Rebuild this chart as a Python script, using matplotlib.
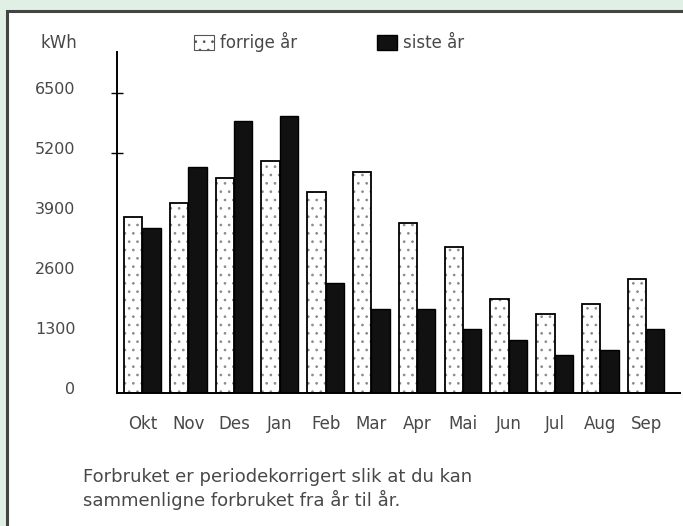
import numpy as np
import matplotlib
matplotlib.use("Agg")
import matplotlib.pyplot as plt
import matplotlib.transforms as mtransforms
from matplotlib.patches import Rectangle, Patch

months = ["Okt", "Nov", "Des", "Jan", "Feb", "Mar", "Apr", "Mai", "Jun", "Jul", "Aug", "Sep"]
forrige = [3820, 4110, 4670, 5030, 4350, 4800, 3690, 3160, 2030, 1720, 1930, 2470]
siste = [3570, 4900, 5900, 6010, 2380, 1810, 1810, 1380, 1150, 820, 930, 1380]
yticks = [0, 1300, 2600, 3900, 5200, 6500]

plt.rcParams['font.family'] = ['DejaVu Sans']
plt.rcParams['hatch.linewidth'] = 0.7
plt.rcParams['hatch.color'] = '#8a8a8a'
txt = '#484848'

W, H = 683, 526
fig = plt.figure(figsize=(W / 100, H / 100), dpi=100, facecolor='#e0f0e4')

# white panel with dark border (behind the axes)
fig.patches.append(Rectangle((6.5 / W, -0.05), 1.1, 1 - 11 / H + 0.05, transform=fig.transFigure,
                             facecolor='white', edgecolor='#444444', lw=2.2, zorder=-5))

ax = fig.add_axes([117 / W, 1 - 393 / H, (680 - 117) / W, (393 - 52) / H])
ax.set_facecolor('none')

x = np.arange(len(months))
w = 0.4
ax.bar(x - w / 2, forrige, w, facecolor='white', edgecolor='#8a8a8a', hatch='..', lw=0)
ax.bar(x - w / 2, forrige, w, facecolor='none', edgecolor='black', lw=1.3)
ax.bar(x + w / 2, siste, w, facecolor='#111111', edgecolor='black', lw=1.0)

ax.set_xlim(-0.555, 11.74)
ax.set_ylim(0, 7390)

for s in ['top', 'right']:
    ax.spines[s].set_visible(False)
ax.spines['left'].set_linewidth(1.4)
ax.spines['bottom'].set_linewidth(1.4)

ax.set_yticks(yticks)
ax.set_yticklabels([str(v) for v in yticks])
ax.tick_params(axis='y', length=0, pad=30, labelsize=11.5, labelcolor=txt)
ax.yaxis.remove_overlapping_locs = False
ax.set_yticks([5200, 6500], minor=True)
ax.tick_params(axis='y', which='minor', direction='inout', length=9, width=1)
shift = mtransforms.ScaledTranslation(0, 5 / 100, fig.dpi_scale_trans)
for lab in ax.get_yticklabels():
    lab.set_transform(lab.get_transform() + shift)

ax.set_xticks(x)
ax.set_xticklabels(months)
ax.tick_params(axis='x', length=0, pad=16, labelsize=12, labelcolor=txt)

fig.text(59 / W, 1 - 43 / H, 'kWh', fontsize=12, color=txt, ha='center', va='center')

handles = [Patch(facecolor='white', edgecolor='#555555', hatch='..', lw=0.8),
           Patch(facecolor='#111111', edgecolor='black')]
leg = ax.legend(handles, ['forrige år', 'siste år'], ncol=2, frameon=False,
                loc='center left', bbox_to_anchor=(194 / W, 1 - 42 / H),
                bbox_transform=fig.transFigure, borderaxespad=0, borderpad=0,
                handlelength=1.2, handleheight=1.0, handletextpad=0.36,
                columnspacing=4.8, fontsize=12)
for t in leg.get_texts():
    t.set_color(txt)

fig.text(83 / W, 1 - 489 / H, 'Forbruket er periodekorrigert slik at du kan\nsammenligne forbruket fra år til år.',
         fontsize=13, color=txt, ha='left', va='center', linespacing=1.2)

fig.savefig('out.png', dpi=100, facecolor=fig.get_facecolor())
